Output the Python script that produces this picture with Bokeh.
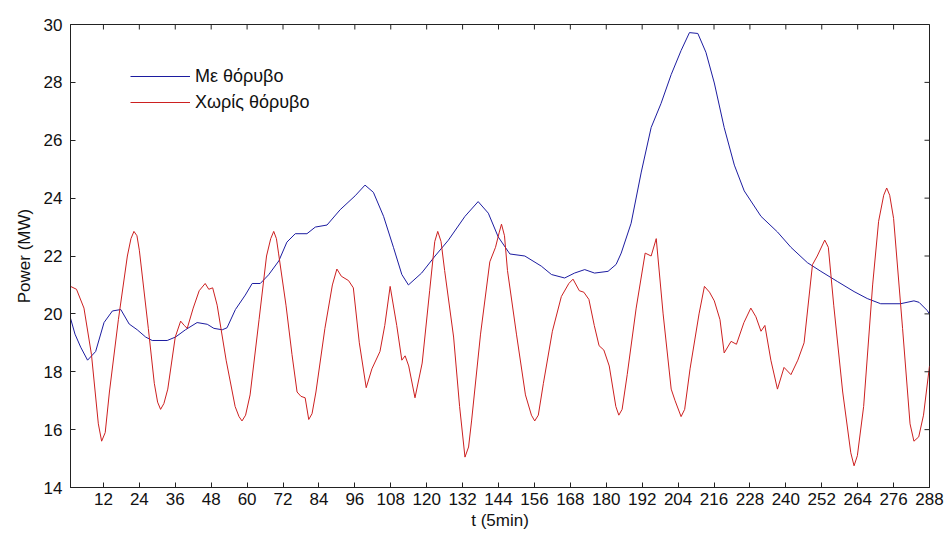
import math
from bokeh.plotting import figure
from bokeh.models import FixedTicker, Range1d, Legend, LegendItem
from bokeh.embed import file_html
from bokeh.resources import INLINE

# Red series: "Χωρίς θόρυβο"
t_red = [1, 3, 5.5, 8, 10.3, 11.4, 12.6, 14, 17, 20, 21.2, 22.2, 23.2, 24, 27, 29, 30.1, 31.1, 32.2,
         33.5, 36, 37.8, 39, 40, 42, 44, 46, 47.2, 48.5, 50, 53, 56, 57.3, 58.3, 59.5, 61, 64, 66.5,
         67.9, 68.9, 69.8, 70.5, 73, 75, 76.7, 78, 79.4, 80.6, 81.7, 83, 86, 88.5, 90, 91.5, 93.9,
         95.5, 97.5, 99.8, 101.7, 104.4, 106, 107.8, 110, 111.7, 112.8, 114, 116.1, 118.5, 121,
         122.7, 123.7, 124.8, 126, 129, 131, 132.8, 134, 135, 138, 141.1, 143, 144.2, 145, 146, 147,
         150, 153, 155, 156.1, 157.3, 159, 162, 165, 167.5, 168.9, 171, 172.5, 174.2, 176, 177.6,
         179.2, 181, 183.2, 184.2, 185.3, 187, 190, 193, 195, 196.7, 199, 201.7, 203, 205, 206.2,
         208, 211, 212.8, 214.5, 216.1, 218, 219.4, 221.7, 223.5, 226, 228.3, 230, 231.7, 233, 235,
         237.2, 239.4, 241.7, 244, 246.1, 248.9, 250.5, 253, 254.2, 256, 259, 261.7, 262.8, 263.9,
         266, 269, 271, 272.7, 273.7, 274.7, 276, 279, 281.5, 282.8, 284.4, 286, 288]
v_red = [20.95, 20.85, 20.2, 18.6, 16.2, 15.6, 15.9, 17.3, 19.8, 22.0, 22.6, 22.85, 22.7, 22.2, 19.5,
         17.6, 16.95, 16.7, 16.9, 17.4, 19.2, 19.75, 19.6, 19.5, 20.2, 20.8, 21.05, 20.85, 20.9, 20.3,
         18.4, 16.8, 16.45, 16.3, 16.5, 17.2, 19.8, 22.0, 22.6, 22.85, 22.6, 22.1, 20.3, 18.6, 17.3,
         17.15, 17.1, 16.35, 16.55, 17.3, 19.5, 21.0, 21.55, 21.3, 21.15, 20.9, 19.0, 17.45, 18.1,
         18.7, 19.6, 20.95, 19.6, 18.4, 18.55, 18.2, 17.1, 18.3, 20.8, 22.5, 22.85, 22.5, 21.5, 19.2,
         16.8, 15.05, 15.4, 16.3, 19.3, 21.8, 22.3, 22.8, 23.1, 22.7, 21.5, 19.3, 17.2, 16.5, 16.3,
         16.5, 17.6, 19.4, 20.6, 21.05, 21.2, 20.8, 20.75, 20.5, 19.6, 18.9, 18.75, 18.2, 16.8, 16.5,
         16.7, 17.9, 20.2, 22.1, 22.0, 22.6, 20.0, 17.4, 17.0, 16.45, 16.7, 18.1, 20.0, 20.95, 20.75,
         20.45, 19.8, 18.65, 19.05, 18.95, 19.7, 20.2, 19.9, 19.4, 19.6, 18.4, 17.4, 18.15, 17.9,
         18.4, 19.0, 21.7, 22.0, 22.55, 22.3, 20.3, 17.3, 15.2, 14.75, 15.1, 16.8, 21.0, 23.2, 24.1,
         24.35, 24.1, 23.3, 19.5, 16.2, 15.6, 15.75, 16.5, 18.2]

# Blue series: "Με θόρυβο"
t_blue = [1, 2.5, 4.4, 6.7, 9.4, 12.2, 15, 17.8, 20.6, 23.3, 26.1, 28.3, 33.3, 36.1, 39.4, 43.3, 46.7,
          48.9, 51.7, 53.3, 56.1, 59.4, 61.7, 64.4, 67.2, 70.6, 73.3, 76.1, 80, 82.8, 86.7, 91.1, 96.1,
          99.4, 102.2, 105.6, 108.9, 111.7, 113.9, 118.3, 122.8, 127.2, 132.8, 137.2, 140.6, 143.9,
          147.8, 152.8, 158.3, 161.7, 166.1, 169.4, 172.8, 176.1, 180.6, 183.3, 185, 188.3, 191.7,
          195, 198.3, 201.7, 205, 207.8, 210.6, 213.3, 216.1, 219.4, 222.8, 226.1, 231.7, 237.2,
          241.7, 247.2, 251.7, 257.2, 262.8, 267.2, 271.7, 278.3, 282.8, 284.5, 287.2, 288]
v_blue = [19.85, 19.3, 18.85, 18.4, 18.7, 19.7, 20.1, 20.15, 19.65, 19.45, 19.2, 19.08, 19.08, 19.2,
          19.45, 19.7, 19.64, 19.5, 19.45, 19.52, 20.15, 20.65, 21.05, 21.05, 21.35, 21.83, 22.48,
          22.77, 22.77, 23.0, 23.07, 23.6, 24.08, 24.45, 24.2, 23.37, 22.3, 21.36, 21.0, 21.41, 22.0,
          22.54, 23.37, 23.88, 23.48, 22.66, 22.07, 22.0, 21.65, 21.36, 21.24, 21.41, 21.53, 21.41,
          21.47, 21.71, 22.1, 23.13, 24.9, 26.44, 27.27, 28.27, 29.1, 29.72, 29.69, 29.04, 27.98,
          26.44, 25.14, 24.25, 23.37, 22.83, 22.3, 21.77, 21.47, 21.12, 20.77, 20.53, 20.35, 20.35,
          20.45, 20.4, 20.12, 20.0]

x_ticks = list(range(12, 289, 12))
y_ticks = list(range(14, 31, 2))
x_min, x_max = 1, 288
y_min, y_max = 14, 30
labels = ["Με θόρυβο", "Χωρίς θόρυβο"]

FONT = "Liberation Sans"
BLUE = "#1c1ca0"
RED = "#cc2020"

p = figure(width=946, height=538, output_backend="svg", toolbar_location=None,
           x_range=Range1d(x_min, x_max), y_range=Range1d(y_min, y_max),
           min_border_left=70, min_border_right=17, min_border_top=24, min_border_bottom=51)
p.background_fill_color = "white"
p.border_fill_color = "white"
p.outline_line_color = "#222222"
p.outline_line_width = 1
p.xgrid.visible = False
p.ygrid.visible = False

r_blue = p.line(t_blue, v_blue, line_color=BLUE, line_width=1)
r_red = p.line(t_red, v_red, line_color=RED, line_width=1)

# inward ticks on the top and right edges of the box (MATLAB style)
p.scatter(x=x_ticks, y=[y_max] * len(x_ticks), marker="dash", size=10, angle=math.pi / 2,
          line_color="#222222", line_width=1)
p.scatter(x=[x_max] * len(y_ticks), y=y_ticks, marker="dash", size=10, angle=0,
          line_color="#222222", line_width=1)

for ax in (p.xaxis[0], p.yaxis[0]):
    ax.axis_line_color = "#222222"
    ax.major_tick_in = 5
    ax.major_tick_out = 0
    ax.minor_tick_in = 0
    ax.minor_tick_out = 0
    ax.major_tick_line_color = "#222222"
    ax.major_label_text_font = FONT
    ax.major_label_text_font_size = "17px"
    ax.major_label_text_color = "#111111"
    ax.axis_label_text_font = FONT
    ax.axis_label_text_font_size = "17px"
    ax.axis_label_text_font_style = "normal"
    ax.axis_label_text_color = "#111111"

p.xaxis.ticker = FixedTicker(ticks=x_ticks)
p.yaxis.ticker = FixedTicker(ticks=y_ticks)
p.xaxis.axis_label = "t (5min)"
p.yaxis.axis_label = "Power (MW)"
p.xaxis.major_label_standoff = 5
p.yaxis.major_label_standoff = 8
p.xaxis.axis_label_standoff = 3
p.yaxis.axis_label_standoff = 7

legend = Legend(items=[LegendItem(label=labels[0], renderers=[r_blue]),
                       LegendItem(label=labels[1], renderers=[r_red])],
                location=(60, 374))
legend.border_line_alpha = 0
legend.background_fill_alpha = 0
legend.padding = 0
legend.margin = 0
legend.spacing = 4
legend.glyph_width = 60
legend.glyph_height = 22
legend.label_height = 22
legend.label_standoff = 5
legend.label_text_font = FONT
legend.label_text_font_size = "18px"
legend.label_text_color = "#111111"
p.add_layout(legend, "center")

open("out.html", "w").write(file_html(p, INLINE))
